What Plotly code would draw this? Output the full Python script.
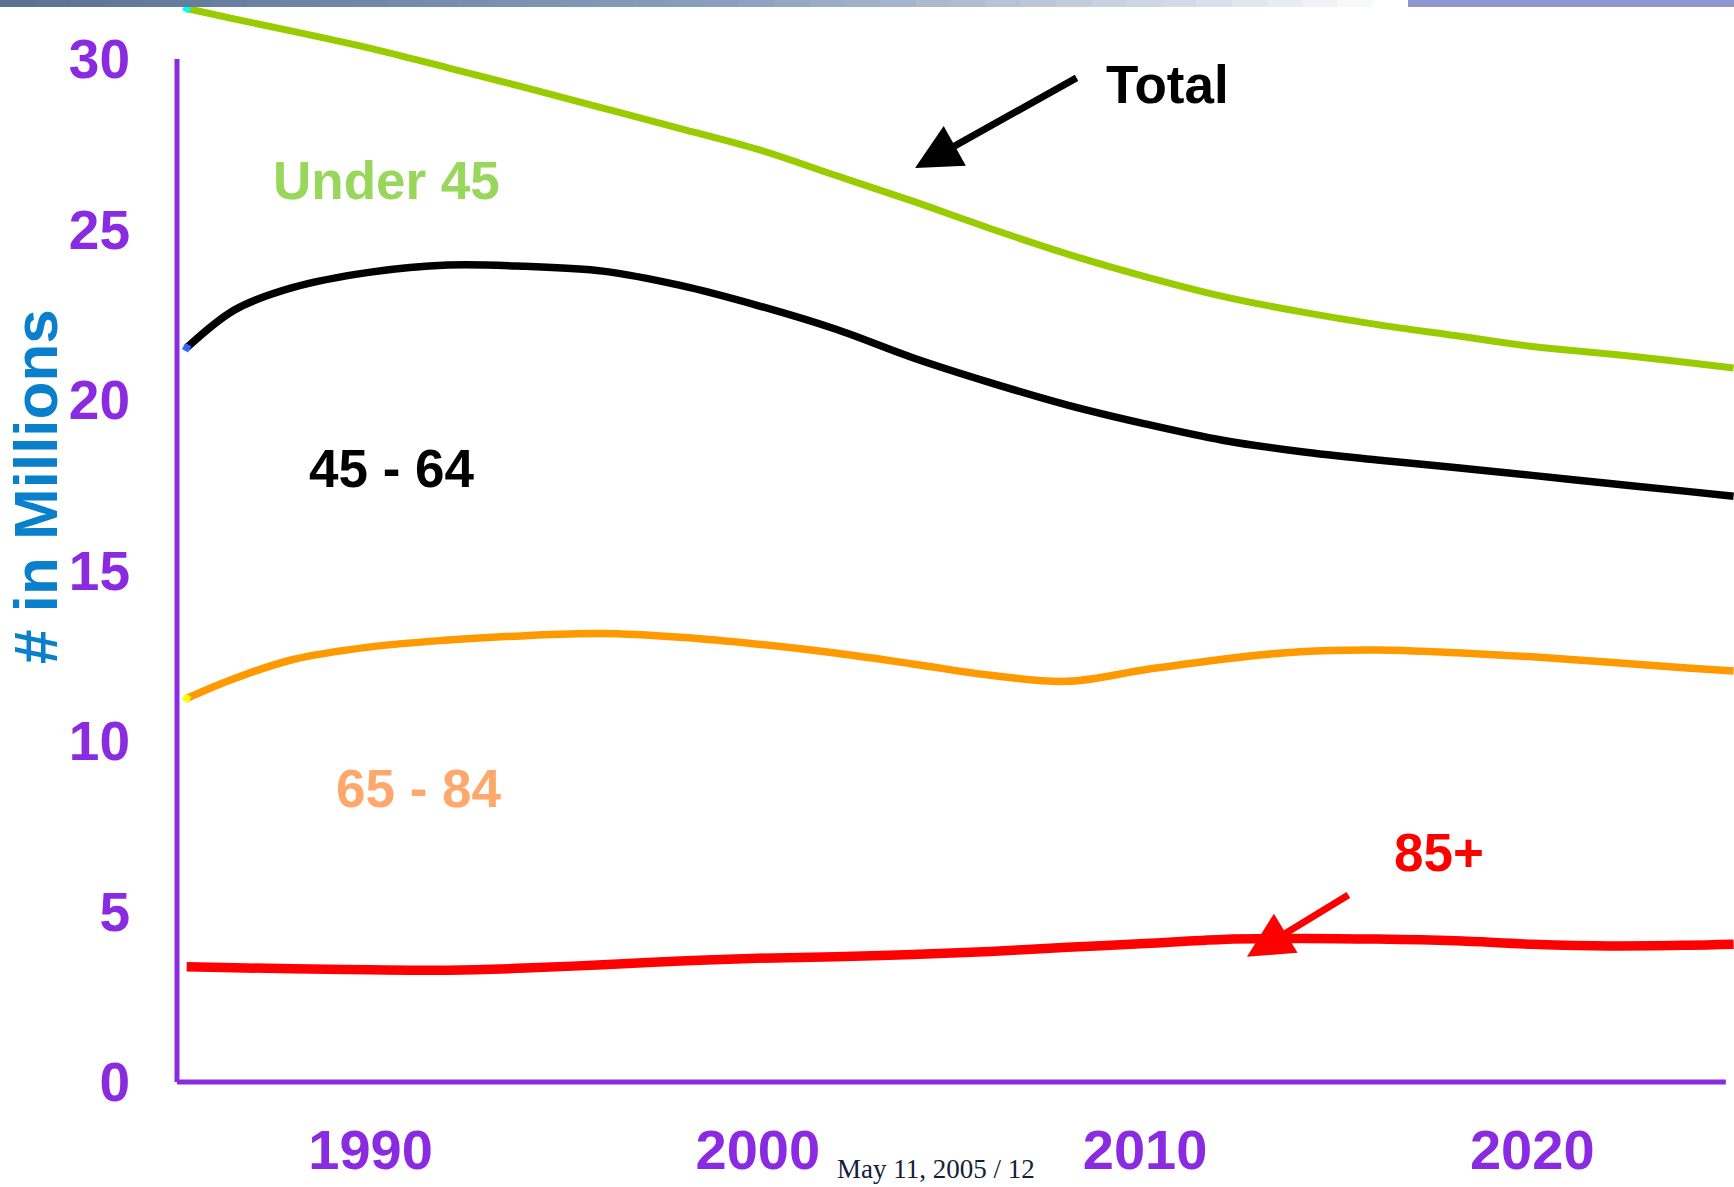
"""Population by age group, 1985-2025 (slide chart)."""

import plotly.graph_objects as go

# values, millions
years = [1985.25, 1986.5, 1988, 1990, 1992, 1994, 1996, 1998, 2000, 2002, 2004,
         2006, 2008, 2010, 2012, 2014, 2016, 2018, 2020, 2022, 2024, 2025.2]
under_45 = [31.48, 31.17, 30.81, 30.31, 29.74, 29.16, 28.56, 27.96, 27.35, 26.59, 25.83,
            25.03, 24.28, 23.62, 23.04, 22.59, 22.21, 21.89, 21.57, 21.35, 21.10, 20.94]
age_45_64 = [21.53, 22.65, 23.30, 23.75, 23.96, 23.92, 23.78, 23.36, 22.77, 22.08, 21.24,
             20.51, 19.85, 19.30, 18.82, 18.49, 18.24, 18.02, 17.79, 17.55, 17.32, 17.18]
age_65_84 = [11.25, 11.84, 12.39, 12.76, 12.96, 13.09, 13.15, 13.04, 12.84, 12.58, 12.26,
             11.93, 11.75, 12.09, 12.40, 12.62, 12.67, 12.59, 12.47, 12.31, 12.14, 12.05]
age_85_plus = [3.38, 3.35, 3.32, 3.29, 3.28, 3.34, 3.44, 3.55, 3.63, 3.67, 3.74,
               3.83, 3.95, 4.06, 4.18, 4.21, 4.19, 4.14, 4.04, 3.99, 4.01, 4.04]

x_ticks = [1990, 2000, 2010, 2020]
y_ticks = [0, 5, 10, 15, 20, 25, 30]

PURPLE = "#8a2be2"
FONT = "Liberation Sans, Arial, sans-serif"

W, H = 1734, 1187
ML, MB = 167, 95
PW, PH = W - ML, H - MB


def paper_x(px):
    return (px - ML) / PW


def paper_y(py):
    return (H - MB - py) / PH


series = [
    # name, values, line colour, width, start-point fleck colour
    ("Under 45", under_45, "#99cc00", 7, "#00ffff"),
    ("45 - 64", age_45_64, "#000000", 7.5, "#3366ff"),
    ("65 - 84", age_65_84, "#ff9900", 7.5, "#ffff00"),
    ("85+", age_85_plus, "#ff0000", 9.5, None),
]

fig = go.Figure()
for name, values, color, width, fleck in series:
    fig.add_trace(
        go.Scatter(
            x=years,
            y=values,
            mode="lines",
            name=name,
            line={"color": color, "width": width, "shape": "spline", "smoothing": 1.0},
        )
    )
    if fleck:
        fig.add_trace(
            go.Scatter(
                x=years[:1],
                y=values[:1],
                mode="markers",
                marker={"symbol": "square", "size": 7, "color": fleck, "angle": 30},
                showlegend=False,
            )
        )

# series labels (text, colour, x, y)
labels = [
    ("Under 45", "#99d65c", 1990.42, 26.45),
    ("45 - 64", "#000000", 1990.54, 18.0),
    ("65 - 84", "#ffa86b", 1991.25, 8.61),
    ("85+", "#ff0000", 2017.59, 6.73),
    ("Total", "#000000", 2010.59, 29.24),
]
for text, color, lx, ly in labels:
    fig.add_annotation(
        x=lx, y=ly, text=text, showarrow=False,
        font={"family": FONT, "size": 53, "color": color, "weight": "bold"},
    )

# pointer arrows: tip then tail, data coords
arrows = [
    ("#000000", (2004.06, 26.80), (2008.27, 29.47)),
    ("#ff0000", (2012.63, 3.67), (2015.29, 5.51)),
]
for color, tip, tail in arrows:
    fig.add_annotation(
        x=tip[0], y=tip[1], ax=tail[0], ay=tail[1],
        axref="x", ayref="y", text="", showarrow=True,
        arrowhead=2, arrowsize=1.3, arrowwidth=7, arrowcolor=color,
    )

# axis spines: purple L only up to 30 / 2025
fig.add_shape(type="line", x0=1985, x1=1985, y0=0, y1=30,
              line={"color": PURPLE, "width": 5})
fig.add_shape(type="line", x0=1985, x1=2025, y0=0, y1=0,
              line={"color": PURPLE, "width": 5})

# slide header strip (gradient fading to white, lavender block on the right)
stops = [(0.0, (90, 114, 148)), (0.4, (140, 160, 190)), (0.65, (212, 220, 232)),
         (0.76, (255, 255, 255))]
n = 40
left, right = paper_x(0), paper_x(1408)
bar_y0 = paper_y(7)
for i in range(n):
    t = i / (n - 1) * 0.76
    for (t0, c0), (t1, c1) in zip(stops, stops[1:]):
        if t0 <= t <= t1:
            f = (t - t0) / (t1 - t0)
            rgb = tuple(round(a + (b - a) * f) for a, b in zip(c0, c1))
            break
    x0 = left + (i / n) * (right - left)
    x1 = left + ((i + 1.6) / n) * (right - left)
    fig.add_shape(type="rect", xref="paper", yref="paper", x0=x0, x1=min(x1, right),
                  y0=bar_y0, y1=1, line={"width": 0},
                  fillcolor=f"rgb{rgb}", layer="above")
fig.add_shape(type="rect", xref="paper", yref="paper", x0=right, x1=1,
              y0=bar_y0, y1=1, line={"width": 0},
              fillcolor="rgb(142,150,208)", layer="above")

fig.add_annotation(
    xref="paper", yref="paper", x=paper_x(36), y=paper_y(487),
    xanchor="center", yanchor="middle",
    text="# in Millions", textangle=-90, showarrow=False,
    font={"family": FONT, "size": 62, "color": "#0a80cc", "weight": "bold"},
)
fig.add_annotation(
    xref="paper", yref="paper", x=paper_x(936), y=paper_y(1169),
    xanchor="center", yanchor="middle",
    text="May 11, 2005 / 12", showarrow=False,
    font={"family": "Liberation Serif, Times New Roman, serif", "size": 27, "color": "#14203a"},
)

fig.update_layout(
    width=W,
    height=H,
    showlegend=False,
    plot_bgcolor="white",
    paper_bgcolor="white",
    margin={"l": ML, "r": 0, "t": 0, "b": MB},
)
fig.update_xaxes(
    range=[1985 - (177 - ML) / 38.72, 2025.21], tickvals=x_ticks, showgrid=False,
    zeroline=False, showline=False, ticks="", ticklabelstandoff=20, automargin=False,
    tickfont={"family": FONT, "size": 56, "color": PURPLE, "weight": "bold"},
)
fig.update_yaxes(
    range=[-(1092 - 1082) / 34.1, 31.73], tickvals=y_ticks, showgrid=False,
    zeroline=False, showline=False, ticks="", ticklabelstandoff=36, automargin=False,
    tickfont={"family": FONT, "size": 55, "color": PURPLE, "weight": "bold"},
)

fig.write_html(
    "out.html",
    config={"displayModeBar": False},
    post_script="document.body.style.margin='0';",
)
